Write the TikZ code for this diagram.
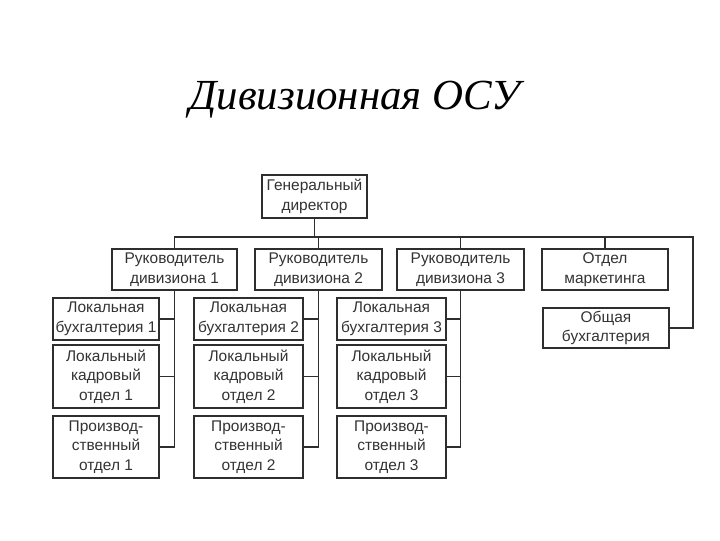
\documentclass[tikz,border=0pt]{standalone}
\usepackage{fontspec}
\setmainfont{Liberation Sans}
\newfontfamily\titlefont{Liberation Serif}
\usetikzlibrary{positioning, calc}
\definecolor{cLine}{HTML}{2E2E2E}
\definecolor{cText}{HTML}{333333}
\newcommand{\px}{0.025cm}

\begin{document}
\begin{tikzpicture}[
  x=0.025cm, y=-0.025cm,
  unit/.style 2 args={
    draw=cLine, line width=1.1pt, fill=white, text=cText,
    minimum width=#1*\px, minimum height=#2*\px,
    align=center, inner sep=1pt,
    font=\fontsize{11}{14}\selectfont,
  },
  link/.style={draw=cLine, line width=1.3pt},
]
\useasboundingbox (0,0) rectangle (720,540);

%% title
\node[font=\titlefont\itshape\fontsize{30.5}{36}\selectfont] (title) at (355,100)
  {Дивизионная ОСУ};

%% top level
\node[unit={105}{43}] (gd) at (314.5,196.5) {Генеральный\\директор};

%% division heads and staff units
\node[unit={125}{41}] (d1) at (174.5,269.5) {Руководитель\\дивизиона 1};
\node[unit={127}{41}] (d2) at (318.5,269.5) {Руководитель\\дивизиона 2};
\node[unit={127}{41}] (d3) at (460.5,269.5) {Руководитель\\дивизиона 3};
\node[unit={126}{41}] (mk) at (605,269.5) {Отдел\\маркетинга};
\node[unit={126}{40}] (ob) at (606,328) {Общая\\бухгалтерия};

%% division 1
\node[unit={106}{42}] (b1) at (106,319) {Локальная\\бухгалтерия 1};
\node[unit={106}{63}] (k1) at (106,376.5) {Локальный\\кадровый\\отдел 1};
\node[unit={106}{62}] (p1) at (106,447) {Производ-\\ственный\\отдел 1};

%% division 2
\node[unit={109}{42}] (b2) at (248.5,319) {Локальная\\бухгалтерия 2};
\node[unit={109}{63}] (k2) at (248.5,376.5) {Локальный\\кадровый\\отдел 2};
\node[unit={109}{62}] (p2) at (248.5,447) {Производ-\\ственный\\отдел 2};

%% division 3
\node[unit={109}{42}] (b3) at (391.5,319) {Локальная\\бухгалтерия 3};
\node[unit={109}{63}] (k3) at (391.5,376.5) {Локальный\\кадровый\\отдел 3};
\node[unit={109}{62}] (p3) at (391.5,447) {Производ-\\ственный\\отдел 3};

%% bus under the general director
\coordinate (bus) at (gd.south |- 0,237);
\coordinate (busR) at (693,237);
\draw[link] (gd.south) -- (bus);
\draw[link] (d1.north) |- (bus);
\draw[link] (d2.north) -- (d2.north |- bus);
\draw[link] (d3.north) -- (d3.north |- bus);
\draw[link] (mk.north) -- (mk.north |- bus);
\draw[link] (ob.east) -| (busR) -- (bus);

%% spines of the divisions
\foreach \d in {1,2,3} {
  \draw[link] (d\d.south) |- (b\d.east);
  \draw[link] (d\d.south) |- (k\d.east);
  \draw[link] (d\d.south) |- (p\d.east);
}
\end{tikzpicture}
\end{document}
